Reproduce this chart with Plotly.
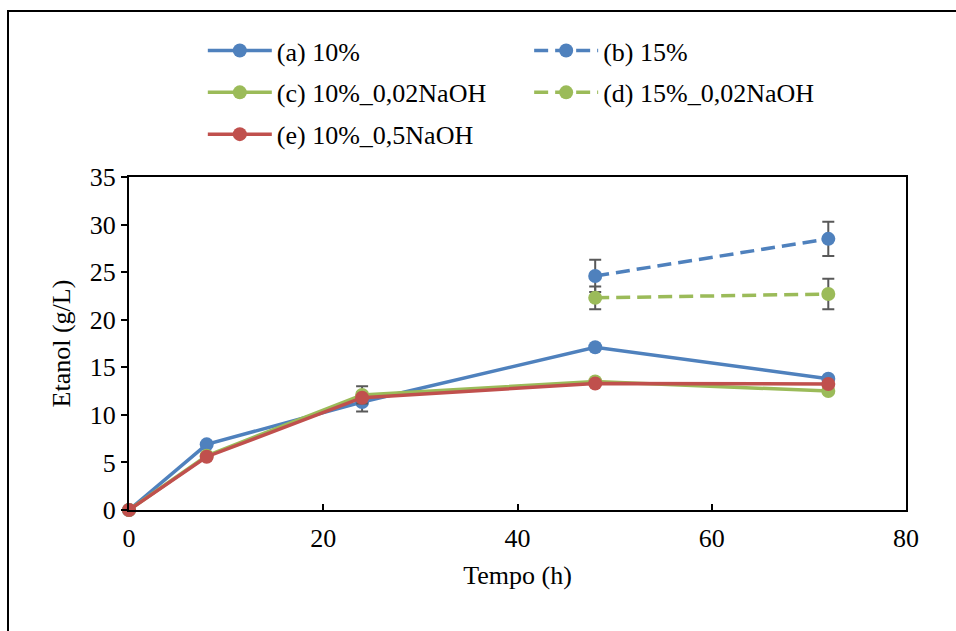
import plotly.graph_objects as go

tempo = [0, 8, 24, 48, 72]
tempo_b = [48, 72]

a_10 = [0, 6.9, 11.35, 17.1, 13.8]
a_err = [0, 0, 1.0, 0, 0]
b_15 = [24.6, 28.5]
b_err = [1.7, 1.8]
c_10_002 = [0, 5.7, 12.1, 13.5, 12.5]
c_err = [0, 0, 0.9, 0, 0]
d_15_002 = [22.3, 22.7]
d_err = [1.2, 1.6]
e_10_05 = [0, 5.6, 11.8, 13.3, 13.25]

names = ["(a) 10%", "(b) 15%", "(c) 10%_0,02NaOH", "(d) 15%_0,02NaOH", "(e) 10%_0,5NaOH"]
BLUE = "#4F81BD"
GREEN = "#9BBB59"
RED = "#C0504D"
ERR = "#595959"
FONT = "Liberation Serif, Times New Roman, serif"
FS = 26
DASH = "14px,7px"

def err(arr):
    return dict(type="data", array=arr, visible=True, color=ERR, thickness=2, width=6)

fig = go.Figure()
fig.add_trace(go.Scatter(x=tempo, y=a_10, name=names[0], mode="lines+markers", legend="legend",
                         legendgroup="a",
                         line=dict(color=BLUE, width=3.5), marker=dict(size=14, color=BLUE),
                         error_y=err(a_err)))
fig.add_trace(go.Scatter(x=tempo_b, y=b_15, name=names[1], mode="lines+markers", legend="legend2",
                         legendgroup="b",
                         line=dict(color=BLUE, width=3.5, dash=DASH), marker=dict(size=14, color=BLUE),
                         error_y=err(b_err)))
fig.add_trace(go.Scatter(x=tempo, y=c_10_002, name=names[2], mode="lines+markers", legend="legend",
                         legendgroup="c",
                         line=dict(color=GREEN, width=3.5), marker=dict(size=14, color=GREEN),
                         error_y=err(c_err)))
fig.add_trace(go.Scatter(x=tempo_b, y=d_15_002, name=names[3], mode="lines+markers", legend="legend2",
                         legendgroup="d",
                         line=dict(color=GREEN, width=3.5, dash=DASH), marker=dict(size=14, color=GREEN),
                         error_y=err(d_err)))
fig.add_trace(go.Scatter(x=tempo, y=e_10_05, name=names[4], mode="lines+markers", legend="legend",
                         legendgroup="e",
                         line=dict(color=RED, width=3.5), marker=dict(size=14, color=RED)))

legend_common = dict(orientation="v", yanchor="top", font=dict(family=FONT, size=FS, color="black"),
                     tracegroupgap=5, itemwidth=64, bgcolor="rgba(0,0,0,0)")

fig.update_layout(
    width=956, height=631,
    margin=dict(l=129, r=50, t=177, b=121),
    paper_bgcolor="white", plot_bgcolor="white",
    font=dict(family=FONT, size=FS, color="black"),
    showlegend=True,
    legend=dict(x=0.095, xanchor="left", y=1.45, **legend_common),
    legend2=dict(x=0.515, xanchor="left", y=1.45, **legend_common),
    xaxis=dict(range=[0, 80], tickvals=[0, 20, 40, 60, 80], ticks="inside", ticklen=6,
               tickwidth=1.5, tickcolor="black",
               showline=True, linecolor="black", linewidth=2, mirror=True, showgrid=False,
               zeroline=False, title=dict(text="Tempo (h)", standoff=14, font=dict(family=FONT, size=FS)),
               tickfont=dict(family=FONT, size=FS), ticklabelstandoff=4),
    yaxis=dict(range=[0, 35], tickvals=[0, 5, 10, 15, 20, 25, 30, 35], ticks="outside", ticklen=6,
               tickwidth=1.5, tickcolor="black",
               showline=True, linecolor="black", linewidth=2, mirror=True, showgrid=False,
               zeroline=False, title=dict(text="Etanol (g/L)", standoff=12, font=dict(family=FONT, size=FS)),
               tickfont=dict(family=FONT, size=FS)),
    shapes=[dict(type="rect", xref="paper", yref="paper",
                 x0=(8 - 129) / 777, x1=1.3, y0=-0.6, y1=(510 - 11) / 333,
                 line=dict(color="black", width=2), fillcolor="rgba(0,0,0,0)", layer="below")],
)
for t in fig.data:
    t.cliponaxis = False

fig.write_html("out.html")
